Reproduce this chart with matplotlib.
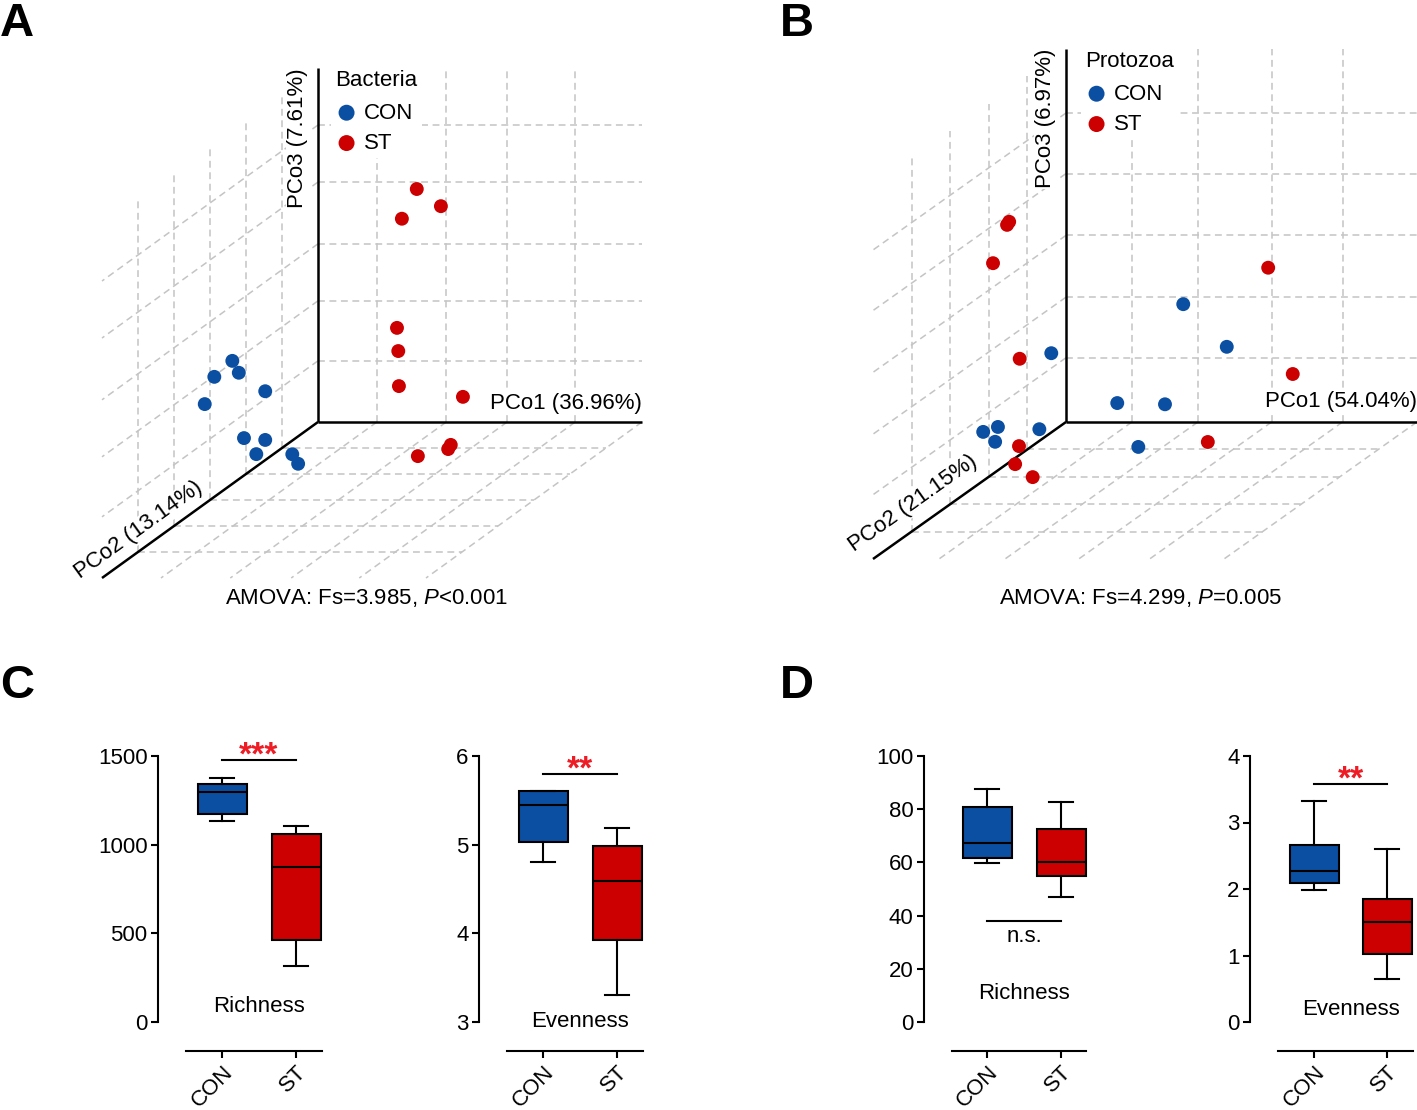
import numpy as np
import matplotlib
matplotlib.use("Agg")
import matplotlib.pyplot as plt

plt.rcParams["font.family"] = ["Liberation Sans", "DejaVu Sans"]
plt.rcParams["mathtext.fontset"] = "custom"
plt.rcParams["mathtext.rm"] = "Liberation Sans"
plt.rcParams["mathtext.it"] = "Liberation Sans:italic"

BLUE = "#0b4fa2"
RED = "#cc0000"
STAR = "#ee1c25"
GRID = "#c4c4c4"
W, H = 1417, 1110

# ---- PCoA scores (in grid units of each plot box) ----
bac_con_pc1 = [0.90, 0.90, 1.00, 1.03, 1.13, 1.08, 1.13, 1.27, 1.27, 1.36]
bac_con_pc2 = [4.0, 4.5, 4.0, 5.0, 3.5, 4.0, 3.5, 4.0, 3.0, 3.0]
bac_con_pc3 = [2.78, 2.73, 2.58, 2.49, 2.05, 1.48, 1.23, 1.21, 0.77, 0.61]
bac_st_pc1 = [2.08, 2.73, 1.85, 2.33, 2.35, 2.36, 3.07, 2.93, 3.12, 3.16]
bac_st_pc2 = [1.0, 1.5, 1.0, 2.0, 2.0, 2.0, 1.5, 2.5, 2.0, 2.0]
bac_st_pc3 = [4.36, 4.29, 3.86, 2.46, 2.07, 1.48, 1.08, 0.52, 0.42, 0.49]

pro_con_pc1 = [2.22, 2.84, 0.89, 1.28, 1.96, 0.72, 0.68, 0.47, 0.64, 1.58]
pro_con_pc2 = [1.0, 1.0, 2.0, 1.0, 1.0, 2.0, 3.0, 3.0, 3.0, 1.0]
pro_con_pc3 = [2.35, 1.66, 2.00, 0.75, 0.73, 0.77, 1.25, 1.17, 1.01, 0.04]
pro_st_pc1 = [0.84, 0.81, 0.61, 3.43, 3.78, 0.44, 0.98, 2.57, 1.20, 1.45]
pro_st_pc2 = [3.0, 3.0, 3.0, 1.0, 1.0, 2.0, 3.0, 1.0, 3.5, 3.5]
pro_st_pc3 = [4.57, 4.52, 3.90, 2.94, 1.22, 1.91, 0.94, 0.12, 0.87, 0.66]

# ---- alpha diversity boxes: whislo, q1, median, q3, whishi ----
groups = ["CON", "ST"]
bac_rich_con = [1133, 1173, 1295, 1340, 1376]
bac_rich_st = [318, 461, 876, 1062, 1105]
bac_even_con = [4.81, 5.03, 5.45, 5.60, 5.61]
bac_even_st = [3.31, 3.92, 4.59, 4.98, 5.19]
pro_rich_con = [59.8, 61.7, 67.4, 80.7, 87.7]
pro_rich_st = [46.9, 54.9, 60.1, 72.6, 82.7]
pro_even_con = [1.99, 2.09, 2.27, 2.66, 3.33]
pro_even_st = [0.64, 1.02, 1.50, 1.85, 2.60]


def draw_pcoa(ax, fr, con, st, labels, title, amova):
    ox, oy = fr["origin"]
    ux, uz = fr["ux"], fr["uz"]
    dx, dy = fr["ud"]
    xe, ze, de = fr["ends"]

    def P(p1, p2, p3):
        p1, p2, p3 = (np.asarray(v, dtype=float) for v in (p1, p2, p3))
        return ox + ux * p1 + dx * p2, oy - uz * p3 + dy * p2

    gkw = dict(color=GRID, lw=1.1, ls=(0, (4.5, 3)), zorder=1)
    for g in fr["gx"]:
        ax.plot(*P([g, g], [0, 0], [0, ze]), **gkw)
    for g in fr["gz"]:
        ax.plot(*P([0, xe], [0, 0], [g, g]), **gkw)
    for g in fr["gd"]:
        ax.plot(*P([0, xe], [g, g], [0, 0]), **gkw)
    for g in list(fr["gx"]) + [xe]:
        ax.plot(*P([g, g], [0, de], [0, 0]), **gkw)
    for g in fr["gd"]:
        ax.plot(*P([0, 0], [g, g], [0, ze]), **gkw)
    for g in fr["gz"]:
        ax.plot(*P([0, 0], [0, de], [g, g]), **gkw)

    akw = dict(color="black", lw=1.8, zorder=2, solid_capstyle="butt")
    ax.plot(*P([0, xe], [0, 0], [0, 0]), **akw)
    ax.plot(*P([0, 0], [0, 0], [0, ze]), **akw)
    ax.plot(*P([0, 0], [0, de], [0, 0]), **akw)

    h1 = ax.scatter(*P(*con), s=100, color=BLUE, edgecolors="none", zorder=5, label="CON")
    h2 = ax.scatter(*P(*st), s=100, color=RED, edgecolors="none", zorder=5, label="ST")

    box = dict(facecolor="white", edgecolor="none", pad=1)
    ex, ey = P(xe, 0, 0)
    ax.text(ex, fr["pc1_y"], labels[0], ha="right", va="center", fontsize=16,
            bbox=box, zorder=3)
    tx, ty = P(0, 0, ze)
    ax.text(tx - 10, ty, labels[2], rotation=90, rotation_mode="anchor",
            ha="right", va="bottom", fontsize=16, bbox=box, zorder=3)
    ang = np.degrees(np.arctan2(dy, -dx))
    ax.text(*fr["pc2_xy"], labels[1], rotation=ang, rotation_mode="anchor",
            ha="center", va="center", fontsize=16, bbox=box, zorder=3)

    ax.text(fr["amova_x"], 598, amova, ha="center", va="center", fontsize=16)

    leg = ax.legend(handles=[h1, h2], title=title, loc="upper left",
                    bbox_to_anchor=fr["legend"], bbox_transform=ax.transData,
                    frameon=True, facecolor="white", edgecolor="none", framealpha=1,
                    fontsize=16, title_fontsize=16, alignment="left",
                    handletextpad=0.3, handlelength=1.0, labelspacing=0.42,
                    borderpad=0.2, borderaxespad=0, scatterpoints=1,
                    markerscale=1.15)
    leg.get_title().set_va("baseline")
    leg._legend_box.sep = 8
    leg.set_zorder(4)
    ax.add_artist(leg)


def box_panel(fig, lay, con, st, ticks, label, label_y, sig=None, ns=None):
    x0 = lay["yaxis"]
    cx, sx = lay["centers"]
    l0, l1 = lay["line"]
    unit = sx - cx
    right = l1 + 2
    ax = fig.add_axes([x0 / W, 1 - 1051 / H, (right - x0) / W, (1051 - 756) / H])
    vmin, vmax = ticks[0], ticks[-1]
    per = (1022 - 756) / (vmax - vmin)
    ax.set_ylim(vmin - (1051 - 1022) / per, vmax)
    ax.set_xlim(1 - (cx - x0) / unit, 2 + (right - sx) / unit)

    stats = []
    for v in (con, st):
        stats.append(dict(whislo=v[0], q1=v[1], med=v[2], q3=v[3], whishi=v[4], fliers=[]))
    lw = 1.5
    bp = ax.bxp(stats, positions=[1, 2], widths=49 / unit, patch_artist=True,
                showfliers=False,
                boxprops=dict(linewidth=lw, edgecolor="black"),
                medianprops=dict(color="black", linewidth=lw),
                whiskerprops=dict(color="black", linewidth=lw),
                capprops=dict(color="black", linewidth=lw))
    for patch, c in zip(bp["boxes"], (BLUE, RED)):
        patch.set_facecolor(c)

    for s in ("top", "right"):
        ax.spines[s].set_visible(False)
    ax.spines["left"].set_bounds(vmin, vmax)
    ax.spines["bottom"].set_bounds(1 - (cx - l0) / unit, 2 + (l1 - sx) / unit)
    for s in ("left", "bottom"):
        ax.spines[s].set_linewidth(1.5)
    ax.patch.set_visible(False)

    ax.set_yticks(ticks)
    ax.set_yticklabels([str(t) for t in ticks])
    ax.set_xticks([1, 2])
    ax.set_xticklabels(groups, rotation=45, ha="right", rotation_mode="anchor")
    ax.tick_params(axis="both", length=5, width=1.5, labelsize=16, pad=2.5)

    ax.text(1.5, label_y, label, ha="center", va="center", fontsize=16)
    if sig is not None:
        y, stars = sig
        ax.plot([1, 2], [y, y], color="black", lw=1.5, clip_on=False)
        ax.annotate(stars, xy=(1.5, y), xytext=(0, -3.5), textcoords="offset points",
                    ha="center", va="baseline", fontsize=24, fontweight="bold",
                    color=STAR, annotation_clip=False)
    if ns is not None:
        ax.plot([1, 2], [ns, ns], color="black", lw=1.5, clip_on=False)
        ax.annotate("n.s.", xy=(1.5, ns), xytext=(0, -15), textcoords="offset points",
                    ha="center", va="baseline", fontsize=16, annotation_clip=False)
    return ax


fig = plt.figure(figsize=(W / 100, H / 100), dpi=100)
ov = fig.add_axes([0, 0, 1, 1])
ov.set_xlim(0, W)
ov.set_ylim(H, 0)
ov.axis("off")

frame_a = dict(origin=(318, 422), ux=64.8, uz=59.4, ud=(-36, 26),
               ends=(5.0, 5.96, 6.0), gx=[0.91, 1.98, 2.92, 3.97],
               gz=[1.03, 2.04, 3.0, 4.04, 5.0], gd=[1, 2, 3, 4, 5],
               pc1_y=403, pc2_xy=(139, 530), amova_x=366, legend=(331, 66))
frame_b = dict(origin=(1066, 422), ux=70.2, uz=61.8, ud=(-38.6, 27.4),
               ends=(5.0, 6.04, 5.0), gx=[0.94, 1.88, 2.93, 3.94],
               gz=[1.04, 2.02, 3.02, 4.02, 5.0], gd=[1, 2, 3, 4],
               pc1_y=401, pc2_xy=(913, 503), amova_x=1141, legend=(1081, 47))

draw_pcoa(ov, frame_a,
          (bac_con_pc1, bac_con_pc2, bac_con_pc3),
          (bac_st_pc1, bac_st_pc2, bac_st_pc3),
          ("PCo1 (36.96%)", "PCo2 (13.14%)", "PCo3 (7.61%)"), "Bacteria",
          r"AMOVA: Fs=3.985, $P$<0.001")
draw_pcoa(ov, frame_b,
          (pro_con_pc1, pro_con_pc2, pro_con_pc3),
          (pro_st_pc1, pro_st_pc2, pro_st_pc3),
          ("PCo1 (54.04%)", "PCo2 (21.15%)", "PCo3 (6.97%)"), "Protozoa",
          r"AMOVA: Fs=4.299, $P$=0.005")

for letter, x, y in (("A", 0, 36), ("B", 780, 36), ("C", 0, 698), ("D", 780, 698)):
    ov.text(x, y, letter, fontsize=34, fontweight="bold", ha="left", va="baseline")

box_panel(fig, dict(yaxis=158, centers=(222, 296), line=(186, 322)),
          bac_rich_con, bac_rich_st, [0, 500, 1000, 1500], "Richness", 90,
          sig=(1478, "***"))
box_panel(fig, dict(yaxis=479, centers=(543, 617), line=(507, 643)),
          bac_even_con, bac_even_st, [3, 4, 5, 6], "Evenness", 3.01,
          sig=(5.80, "**"))
box_panel(fig, dict(yaxis=924, centers=(987, 1061), line=(952, 1086)),
          pro_rich_con, pro_rich_st, [0, 20, 40, 60, 80, 100], "Richness", 10.7,
          ns=38.0)
box_panel(fig, dict(yaxis=1250, centers=(1314, 1387), line=(1278, 1413)),
          pro_even_con, pro_even_st, [0, 1, 2, 3, 4], "Evenness", 0.19,
          sig=(3.58, "**"))

fig.savefig("out.png", dpi=100)
